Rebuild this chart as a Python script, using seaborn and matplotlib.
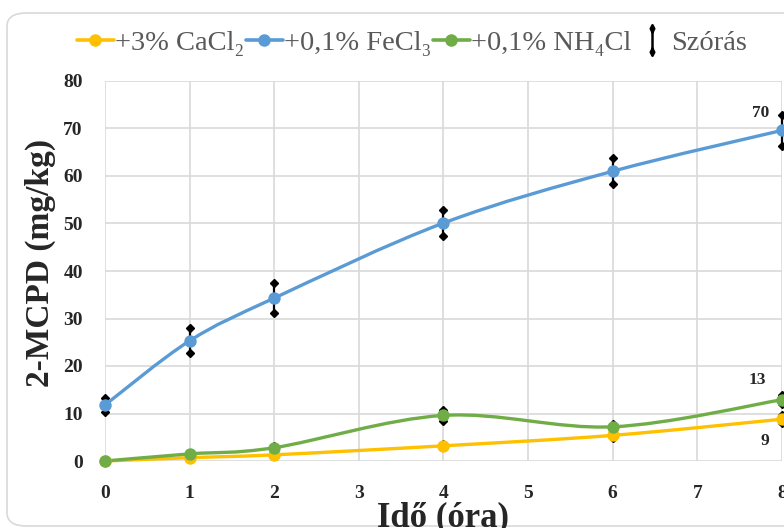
import numpy as np
import pandas as pd
import matplotlib.pyplot as plt
import seaborn as sns
from matplotlib.path import Path
from matplotlib.patches import PathPatch, FancyBboxPatch
from matplotlib.lines import Line2D

# data
ido = [0, 1, 2, 4, 6, 8]
cacl2 = [0.0, 0.7, 1.3, 3.2, 5.4, 8.8]
fecl3 = [11.8, 25.3, 34.3, 50.1, 61.0, 69.6]
nh4cl = [0.0, 1.5, 2.8, 9.6, 7.2, 12.9]
cacl2_sd = [0.1, 0.2, 0.2, 0.3, 0.6, 0.8]
fecl3_sd = [1.5, 2.6, 3.2, 2.7, 2.7, 3.3]
nh4cl_sd = [0.1, 0.2, 0.3, 1.2, 0.6, 1.0]
series_names = ['+3% CaCl₂', '+0,1% FeCl₃', '+0,1% NH₄Cl']
series_colors = ['#FFC000', '#5B9BD5', '#70AD47']

df = pd.DataFrame({'ido': ido * 3,
                   'val': cacl2 + fecl3 + nh4cl,
                   'sd': cacl2_sd + fecl3_sd + nh4cl_sd,
                   'sorozat': [n for n in series_names for _ in ido]})

sns.set_style('white')
plt.rcParams['font.family'] = ['Liberation Serif', 'DejaVu Serif']


def smooth_path(x, y):
    # excel-like smoothed line (catmull-rom as cubic bezier)
    pts = np.column_stack([x, y]).astype(float)
    n = len(pts)
    verts = [pts[0]]
    codes = [Path.MOVETO]
    for i in range(n - 1):
        p0 = pts[max(i - 1, 0)]
        p1 = pts[i]
        p2 = pts[i + 1]
        p3 = pts[min(i + 2, n - 1)]
        verts += [p1 + (p2 - p0) / 6, p2 - (p3 - p1) / 6, p2]
        codes += [Path.CURVE4] * 3
    return Path(verts, codes)


fig = plt.figure(figsize=(7.84, 5.28), dpi=100)
fig.patches.append(FancyBboxPatch((7 / 784, 2 / 528), 800 / 784, 513 / 528,
                                  boxstyle='round,pad=0,rounding_size=0.025',
                                  transform=fig.transFigure, facecolor='white',
                                  edgecolor='#D9D9D9', linewidth=1.2, zorder=-1))
ax = fig.add_axes([105 / 784, 67 / 528, 677 / 784, 380 / 528])
ax.set_facecolor('none')

for name, col in zip(series_names, series_colors):
    d = df[df['sorozat'] == name]
    eb = ax.errorbar(d['ido'], d['val'], yerr=d['sd'], fmt='none', ecolor='black',
                     elinewidth=1.6, capsize=3, capthick=1, zorder=3, clip_on=False)
    for cap in eb[1]:
        cap.set_marker('D')
        cap.set_markersize(4.5)
        cap.set_markerfacecolor('black')
    ax.add_patch(PathPatch(smooth_path(d['ido'], d['val']), facecolor='none',
                           edgecolor=col, linewidth=2.4, zorder=4, clip_on=False))
    sns.scatterplot(x=d['ido'], y=d['val'], color=col, s=80, edgecolor=col,
                    linewidth=0, zorder=5, clip_on=False, ax=ax, legend=False)

# data labels at 8 h
ax.text(7.75, 73.2, '70', fontsize=12.5, fontweight='bold', ha='center', va='center')
ax.text(7.71, 17.0, '13', fontsize=12.5, fontweight='bold', ha='center', va='center')
ax.text(7.8, 4.2, '9', fontsize=12.5, fontweight='bold', ha='center', va='center')

ax.set_xlim(0, 8)
ax.set_ylim(0, 80)
ax.set_xticks(range(0, 9))
ax.set_yticks(range(0, 81, 10))
ax.grid(True, color='#D9D9D9', linewidth=1.2)
for s in ax.spines.values():
    s.set_visible(False)
ax.tick_params(length=0, labelsize=14)
ax.tick_params(axis='x', pad=17)
ax.tick_params(axis='y', pad=16)
for lab in ax.get_xticklabels() + ax.get_yticklabels():
    lab.set_fontweight('bold')
ax.set_xlabel('Idő (óra)', fontsize=25, fontweight='bold', labelpad=0)
ax.set_ylabel('2-MCPD (mg/kg)', fontsize=24, fontweight='bold')
ax.yaxis.set_label_coords(-0.073, 0.52)

# legend
sd_marker = Path([(0, -1), (0, 1), (0, 1.3), (0.15, 1.0), (0, 0.7), (-0.15, 1.0), (0, 1.3),
                  (0, -1.3), (0.15, -1.0), (0, -0.7), (-0.15, -1.0), (0, -1.3)],
                 [Path.MOVETO, Path.LINETO, Path.MOVETO, Path.LINETO, Path.LINETO, Path.LINETO,
                  Path.CLOSEPOLY, Path.MOVETO, Path.LINETO, Path.LINETO, Path.LINETO,
                  Path.CLOSEPOLY])
handles = [Line2D([], [], color=c, marker='o', markersize=8, linewidth=2.6) for c in series_colors]
handles.append(Line2D([], [], color='black', marker=sd_marker, markersize=22,
                      linestyle='none', markeredgewidth=1.8))
leg = fig.legend(handles, series_names + ['Szórás'], loc='center', ncol=4,
                 bbox_to_anchor=(412 / 784, 1 - 43 / 528), frameon=False, fontsize=20.5,
                 handlelength=1.3, handletextpad=0.05, columnspacing=0.05)
for t in leg.get_texts():
    t.set_color('#595959')

fig.savefig('out.png', dpi=100)
